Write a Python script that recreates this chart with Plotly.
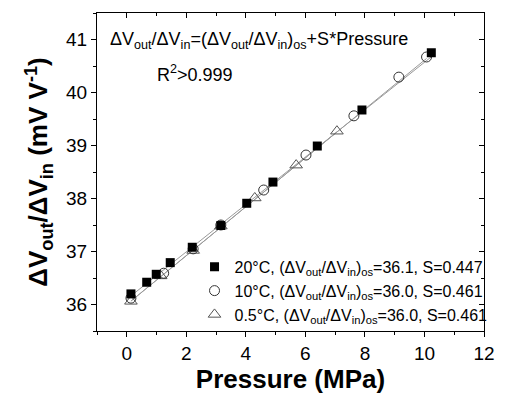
import plotly.graph_objects as go

# --- data ---
p20 = [0.14, 0.67, 0.99, 1.46, 2.20, 3.16, 4.03, 4.91, 6.40, 7.90, 10.23]
v20 = [36.20, 36.42, 36.57, 36.79, 37.08, 37.49, 37.91, 38.31, 38.99, 39.67, 40.75]
p10 = [0.14, 1.24, 2.23, 3.16, 4.60, 6.02, 7.63, 9.14, 10.07]
v10 = [36.12, 36.59, 37.05, 37.50, 38.16, 38.82, 39.56, 40.29, 40.67]
p05 = [0.14, 1.14, 2.23, 3.16, 4.30, 5.69, 7.06]
v05 = [36.06, 36.54, 37.02, 37.48, 38.01, 38.63, 39.27]
fit_os = {"20": 36.1, "10": 36.0, "05": 36.0}
fit_s = {"20": 0.447, "10": 0.461, "05": 0.461}
fit_x = {"20": [0.14, 10.23], "10": [0.14, 10.07], "05": [0.14, 7.06]}
x_ticks = [0, 2, 4, 6, 8, 10, 12]
y_ticks = [36, 37, 38, 39, 40, 41]

FONT = "Arial, 'Liberation Sans', sans-serif"
fig = go.Figure()

# fit lines
for k in ["05", "10", "20"]:
    xs = fit_x[k]
    ys = [fit_os[k] + fit_s[k] * x for x in xs]
    fig.add_trace(go.Scatter(x=xs, y=ys, mode="lines", showlegend=False,
                             line=dict(color="#9a9a9a", width=1), hoverinfo="skip"))

ratio = "(ΔV<sub>out</sub>/ΔV<sub>in</sub>)<sub>os</sub>"
fig.add_trace(go.Scatter(x=p05, y=v05, mode="markers", name=f"0.5°C, {ratio}=36.0, S=0.461",
                         marker=dict(symbol="triangle-up-open", size=11, color="#555555",
                                     line=dict(width=1)), legendrank=3))
fig.add_trace(go.Scatter(x=p10, y=v10, mode="markers", name=f"10°C, {ratio}=36.0, S=0.461",
                         marker=dict(symbol="circle-open", size=10, color="#333333",
                                     line=dict(width=1)), legendrank=2))
fig.add_trace(go.Scatter(x=p20, y=v20, mode="markers", name=f"20°C, {ratio}=36.1, S=0.447",
                         marker=dict(symbol="square", size=9, color="black"), legendrank=1))

# dummy trace for mirrored inside ticks
fig.add_trace(go.Scatter(x=[None], y=[None], xaxis="x2", yaxis="y2", showlegend=False))

axis_common = dict(showline=True, linecolor="black", linewidth=1, showgrid=False,
                   zeroline=False)
fig.update_layout(
    width=507, height=396,
    margin=dict(l=97, r=14, t=13, b=63),
    paper_bgcolor="white", plot_bgcolor="white",
    font=dict(family=FONT, color="black"),
    xaxis=dict(range=[-1, 12], tickvals=x_ticks, ticks="outside",
               ticklen=5, tickwidth=1, tickcolor="black",
               tickfont=dict(size=19),
               minor=dict(dtick=1, ticks="outside", ticklen=3, tickcolor="black"),
               title=dict(text="<b>Pressure (MPa)</b>", font=dict(size=26), standoff=2),
               **axis_common),
    yaxis=dict(range=[35.5, 41.5], tickvals=y_ticks, ticks="outside",
               ticklen=5, tickwidth=1, tickcolor="black",
               tickfont=dict(size=19),
               minor=dict(dtick=0.5, ticks="outside", ticklen=3, tickcolor="black"),
               title=dict(text="<b>ΔV<sub>out</sub>/ΔV<sub>in</sub> (mV V<sup>-1</sup>)</b>",
                          font=dict(size=26), standoff=10),
               **axis_common),
    xaxis2=dict(overlaying="x", side="top", range=[-1, 12], tickvals=x_ticks,
                ticks="inside", ticklen=5, tickcolor="black", showticklabels=False,
                minor=dict(dtick=1, ticks="inside", ticklen=3, tickcolor="black"),
                **axis_common),
    yaxis2=dict(overlaying="y", side="right", range=[35.5, 41.5], tickvals=y_ticks,
                ticks="inside", ticklen=5, tickcolor="black", showticklabels=False,
                minor=dict(dtick=0.5, ticks="inside", ticklen=3, tickcolor="black"),
                **axis_common),
    legend=dict(x=0.252, y=0.255, xanchor="left", yanchor="top", bgcolor="rgba(0,0,0,0)",
                font=dict(size=16), tracegroupgap=0, itemwidth=30),
    showlegend=True,
)

fig.add_annotation(xref="paper", yref="paper", x=0.028, y=0.912, xanchor="left", yanchor="middle",
                   text="ΔV<sub>out</sub>/ΔV<sub>in</sub>=(ΔV<sub>out</sub>/ΔV<sub>in</sub>)<sub>os</sub>+S*Pressure",
                   showarrow=False, font=dict(size=18))
fig.add_annotation(xref="paper", yref="paper", x=0.15, y=0.81, xanchor="left", yanchor="middle",
                   text="R<sup>2</sup>>0.999", showarrow=False, font=dict(size=18))

fig.write_html("out.html", config={"displayModeBar": False},
               post_script="document.body.style.margin='0';")
